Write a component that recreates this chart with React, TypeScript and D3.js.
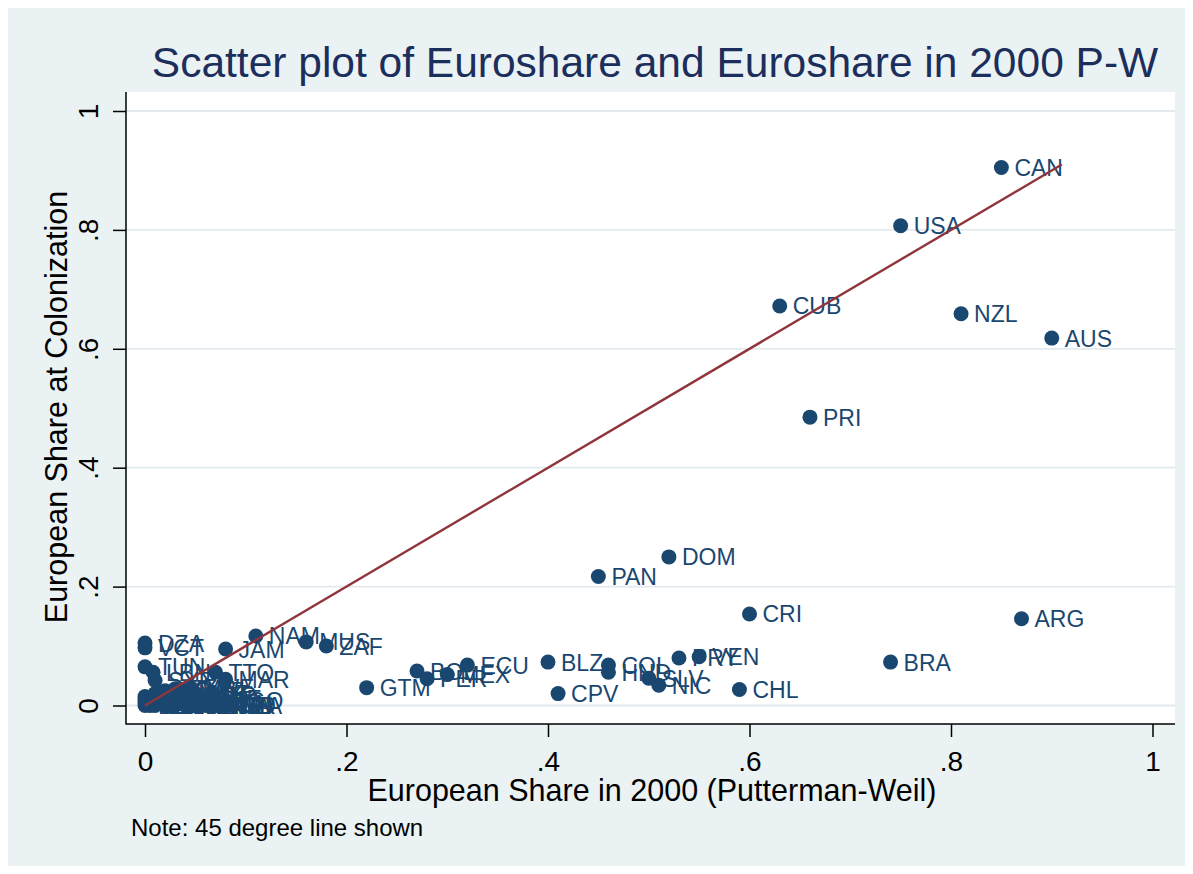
import React, { useRef, useEffect } from "react";
import * as d3 from "d3";

// country codes with European share in 2000 (x) and at colonization (y)
const codes = [
  "CAN", "USA", "CUB", "NZL", "AUS", "PRI", "DOM", "PAN", "CRI", "ARG",
  "BRA", "BLZ", "PRY", "VEN", "COL", "HND", "SLV", "NIC", "CHL", "CPV",
  "ECU", "BOL", "MEX", "PER", "GTM", "ZAF", "MUS", "NAM", "JAM", "TTO",
  "MAR", "DZA", "VCT", "TUN", "LBN", "SYR", "SWZ", "BEN", "BFA", "BDI",
  "CAF", "CMR", "COG", "ETH", "GAB", "GHA", "GIN", "GMB", "GNB", "KEN",
  "MDG", "MLI", "MOZ", "MRT", "MWI", "NER", "NGA", "RWA", "SLE", "SDN",
  "TCD", "TGO", "TZA", "UGA", "ZMB", "ZWE", "IND", "TUR",
];
const euroShare2000 = [
  0.85, 0.75, 0.63, 0.81, 0.9, 0.66, 0.52, 0.45, 0.6, 0.87,
  0.74, 0.4, 0.53, 0.55, 0.46, 0.46, 0.5, 0.51, 0.59, 0.41,
  0.32, 0.27, 0.3, 0.28, 0.22, 0.18, 0.16, 0.11, 0.08, 0.07,
  0.08, 0, 0, 0, 0.008, 0.01, 0.035, 0, 0, 0,
  0, 0.005, 0.01, 0.01, 0.015, 0.02, 0.02, 0.025, 0.03, 0.03,
  0.035, 0.04, 0.04, 0.045, 0.05, 0.05, 0.055, 0.06, 0.06, 0.065,
  0.07, 0.075, 0.08, 0.02, 0.03, 0.045, 0.075, 0.07,
];
const euroShareColonization = [
  0.905, 0.807, 0.672, 0.659, 0.618, 0.485, 0.25, 0.217, 0.154, 0.146,
  0.073, 0.073, 0.08, 0.082, 0.068, 0.056, 0.046, 0.034, 0.027, 0.02,
  0.068, 0.058, 0.052, 0.045, 0.03, 0.1, 0.107, 0.117, 0.095, 0.056,
  0.044, 0.105, 0.097, 0.065, 0.056, 0.042, 0.025, 0, 0.005, 0.01,
  0.015, 0, 0.02, 0, 0.008, 0, 0.012, 0.004, 0, 0.015,
  0.006, 0, 0.02, 0.01, 0, 0.016, 0.005, 0, 0.012, 0.003,
  0, 0.008, 0, 0.025, 0.028, 0.03, 0, 0,
];
const fortyFive = [0, 0.91];
const xTicks = [0, 0.2, 0.4, 0.6, 0.8, 1];
const yTicks = [0, 0.2, 0.4, 0.6, 0.8, 1];
const tickLabels = ["0", ".2", ".4", ".6", ".8", "1"];

const FONT = "'Liberation Sans', Arial, Helvetica, sans-serif";
const NAVY = "#1a476f";

const ScatterChart: React.FC = () => {
  const ref = useRef<SVGSVGElement | null>(null);

  useEffect(() => {
    const width = 1177;
    const height = 858;
    // plot region in page coordinates
    const left = 126, right = 1175, top = 92, bottom = 724;

    d3.select(ref.current).selectAll("*").remove();
    const root = d3
      .select(ref.current)
      .attr("width", width)
      .attr("height", height)
      .style("display", "block")
      .append("g")
      .attr("transform", "translate(-8,-8)")
      .style("font-family", FONT);

    root.append("rect").attr("x", 8).attr("y", 8).attr("width", width).attr("height", height).attr("fill", "#eaf2f3");
    root.append("rect").attr("x", left).attr("y", top).attr("width", right - left).attr("height", bottom - top).attr("fill", "#fff");

    const x = d3.scaleLinear().domain([0, 1]).range([145, 1152.5]);
    const y = d3.scaleLinear().domain([0, 1]).range([705.5, 111]);

    // gridlines
    root
      .selectAll(".grid")
      .data(yTicks)
      .enter()
      .append("line")
      .attr("x1", left)
      .attr("x2", right)
      .attr("y1", (d) => y(d))
      .attr("y2", (d) => y(d))
      .attr("stroke", "#e2eaee")
      .attr("stroke-width", 1.8);

    const pts = codes.map((c, i) => ({ code: c, x: euroShare2000[i], y: euroShareColonization[i] }));

    // markers
    root
      .selectAll(".dot")
      .data(pts)
      .enter()
      .append("circle")
      .attr("cx", (d) => x(d.x))
      .attr("cy", (d) => y(d.y))
      .attr("r", 7.5)
      .attr("fill", NAVY);

    // marker labels
    root
      .selectAll(".lbl")
      .data(pts)
      .enter()
      .append("text")
      .attr("x", (d) => x(d.x) + 13)
      .attr("y", (d) => y(d.y) + 8.5)
      .attr("fill", NAVY)
      .style("font-size", "23px")
      .text((d) => d.code);

    // 45 degree line
    const line = d3
      .line<number>()
      .x((d) => x(d))
      .y((d) => y(d));
    root
      .append("path")
      .datum(fortyFive)
      .attr("fill", "none")
      .attr("stroke", "#90353b")
      .attr("stroke-width", 2.4)
      .attr("d", line);

    // axis lines
    root.append("line").attr("x1", left).attr("x2", left).attr("y1", top).attr("y2", bottom + 0.5).attr("stroke", "#000").attr("stroke-width", 1.5);
    root.append("line").attr("x1", left).attr("x2", right).attr("y1", bottom).attr("y2", bottom).attr("stroke", "#000").attr("stroke-width", 1.5);

    const fmt = (d: d3.NumberValue) => tickLabels[xTicks.indexOf(+d)];

    const xAxis = root
      .append("g")
      .attr("transform", `translate(0,${bottom})`)
      .call(d3.axisBottom(x).tickValues(xTicks).tickSize(13).tickSizeOuter(0).tickPadding(14).tickFormat(fmt) as any);
    xAxis.select(".domain").remove();
    xAxis.selectAll("line").attr("stroke", "#000").attr("stroke-width", 1.5);
    xAxis.selectAll("text").attr("fill", "#000").style("font-size", "28px").style("font-family", FONT);

    const yAxis = root
      .append("g")
      .attr("transform", `translate(${left},0)`)
      .call(d3.axisLeft(y).tickValues(yTicks).tickSize(13).tickSizeOuter(0).tickFormat(fmt) as any);
    yAxis.select(".domain").remove();
    yAxis.selectAll("line").attr("stroke", "#000").attr("stroke-width", 1.5);
    yAxis
      .selectAll("text")
      .attr("fill", "#000")
      .attr("transform", "rotate(-90)")
      .attr("x", 0)
      .attr("y", -28)
      .attr("dy", null)
      .attr("text-anchor", "middle")
      .style("font-size", "28px")
      .style("font-family", FONT);

    // titles
    root
      .append("text")
      .attr("x", 655)
      .attr("y", 77)
      .attr("text-anchor", "middle")
      .attr("fill", "#1c2e5b")
      .style("font-size", "42.5px")
      .text("Scatter plot of Euroshare and Euroshare in 2000 P-W");

    root
      .append("text")
      .attr("x", 652)
      .attr("y", 801)
      .attr("text-anchor", "middle")
      .attr("fill", "#000")
      .style("font-size", "30.5px")
      .text("European Share in 2000 (Putterman-Weil)");

    root
      .append("text")
      .attr("transform", "rotate(-90)")
      .attr("x", -407)
      .attr("y", 67)
      .attr("text-anchor", "middle")
      .attr("fill", "#000")
      .style("font-size", "30.5px")
      .text("European Share at Colonization");

    root
      .append("text")
      .attr("x", 131)
      .attr("y", 836)
      .attr("fill", "#000")
      .style("font-size", "24px")
      .text("Note: 45 degree line shown");
  }, []);

  return <svg ref={ref} />;
};

export default function App() {
  return <ScatterChart />;
}
